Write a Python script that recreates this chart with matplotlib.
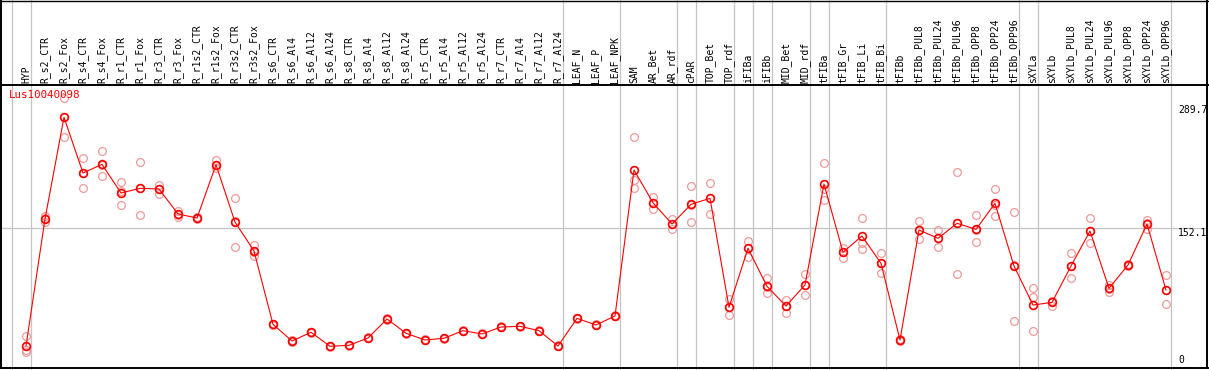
import matplotlib
matplotlib.use("Agg")
import matplotlib.pyplot as plt
import numpy as np
from matplotlib.lines import Line2D
from matplotlib.transforms import blended_transform_factory

title = "Lus10040098"

categories = ["HYP", "R_s2_CTR", "R_s2_Fox", "R_s4_CTR", "R_s4_Fox", "R_r1_CTR", "R_r1_Fox",
              "R_r3_CTR", "R_r3_Fox", "R_r1s2_CTR", "R_r1s2_Fox", "R_r3s2_CTR", "R_r3s2_Fox",
              "R_s6_CTR", "R_s6_Al4", "R_s6_Al12", "R_s6_Al24", "R_s8_CTR", "R_s8_Al4",
              "R_s8_Al12", "R_s8_Al24", "R_r5_CTR", "R_r5_Al4", "R_r5_Al12", "R_r5_Al24",
              "R_r7_CTR", "R_r7_Al4", "R_r7_Al12", "R_r7_Al24", "LEAF_N", "LEAF_P", "LEAF_NPK",
              "SAM", "AR_Bet", "AR_rdf", "cPAR", "TOP_Bet", "TOP_rdf", "iFIBa", "iFIBb",
              "MID_Bet", "MID_rdf", "tFIBa", "tFIB_Gr", "tFIB_Li", "tFIB_Bi", "tFIBb",
              "tFIBb_PUL8", "tFIBb_PUL24", "tFIBb_PUL96", "tFIBb_OPP8", "tFIBb_OPP24",
              "tFIBb_OPP96", "sXYLa", "sXYLb", "sXYLb_PUL8", "sXYLb_PUL24", "sXYLb_PUL96",
              "sXYLb_OPP8", "sXYLb_OPP24", "sXYLb_OPP96"]

means = [21.1, 162.4, 275.5, 213.6, 223.2, 191.3, 196.5, 195.8, 168.0, 163.5, 222.8, 159.0,
         126.8, 45.2, 26.7, 36.4, 20.8, 21.9, 30.0, 51.2, 35.3, 27.8, 29.7, 38.2, 34.5, 42.3,
         43.0, 38.2, 21.1, 51.9, 44.5, 54.5, 216.9, 180.5, 156.8, 178.7, 185.4, 64.2, 129.8,
         87.5, 65.6, 89.0, 201.3, 125.4, 143.5, 113.1, 27.8, 150.2, 140.9, 157.6, 150.9,
         179.8, 110.1, 66.7, 69.7, 110.1, 149.0, 85.3, 111.2, 156.8, 83.4]

replicates = [
    [32.3, 16.7, 14.8], [166.0, 163.0, 159.0], [296.7, 253.6, 276.0], [229.9, 196.5, 214.0],
    [238.0, 209.9, 222.0], [203.2, 177.6, 193.0], [225.8, 166.5, 197.0], [200.6, 190.2, 196.0],
    [171.7, 165.0, 167.0], [164.5, 163.0, 162.0], [228.0, 218.8, 222.0], [185.8, 130.9, 160.0],
    [133.1, 121.6, 126.0], [46.0, 44.5, 45.0], [27.5, 26.0, 26.5], [37.0, 36.0, 36.3],
    [21.5, 20.3, 20.8], [22.5, 21.4, 21.9], [30.6, 29.5, 30.0], [52.0, 50.6, 51.0],
    [35.9, 34.8, 35.3], [28.4, 27.3, 27.8], [30.3, 29.2, 29.7], [38.8, 37.7, 38.2],
    [35.1, 34.0, 34.5], [42.9, 41.8, 42.3], [43.6, 42.5, 43.0], [38.8, 37.7, 38.2],
    [21.7, 20.6, 21.1], [52.5, 51.4, 51.9], [45.1, 44.0, 44.5], [55.1, 54.0, 54.5],
    [253.6, 206.0, 196.5], [187.2, 173.9, 180.0], [162.8, 150.9, 157.0], [198.8, 158.7, 178.0],
    [202.1, 167.6, 186.0], [73.1, 55.3, 64.0], [137.9, 120.5, 130.0], [96.4, 79.7, 87.0],
    [72.3, 57.5, 66.0], [101.2, 77.5, 89.0], [224.4, 195.4, 183.5], [129.8, 119.4, 126.0],
    [163.2, 136.0, 128.7], [124.2, 102.0, 113.0], [28.5, 27.0, 27.8], [160.2, 139.8, 150.0],
    [150.2, 130.9, 141.0], [214.3, 100.9, 157.6], [166.5, 136.5, 150.0], [195.4, 165.7, 178.0],
    [169.9, 48.9, 111.0], [85.3, 75.3, 37.8], [71.0, 66.0, 71.5], [124.2, 96.4, 110.0],
    [163.2, 135.4, 149.0], [89.0, 81.6, 85.0], [112.0, 110.5, 111.0], [161.3, 150.9, 158.0],
    [100.1, 67.5, 83.0]]

# group separators come after these category indices
group_ends = [-1, 0, 28, 31, 34, 35, 37, 38, 39, 41, 42, 45, 52, 53, 60]

y_ticks = [289.7, 152.1, 0]

W, H = 1209, 370
fig = plt.figure(figsize=(W / 100, H / 100), dpi=100)
fig.patch.set_facecolor("white")

ax = fig.add_axes([1 / W, 2 / H, 1206 / W, 283 / H])
ax.set_axis_off()
ax.set_xlim(-1.3158, 62.158)
ax.set_ylim(-3.337, 311.46)

gray = "#c4c4c4"
trans = blended_transform_factory(ax.transData, fig.transFigure)
for g in group_ends:
    xv = g + 0.25
    ax.plot([xv, xv], [0, 1], color=gray, lw=0.9, transform=trans, clip_on=False, zorder=1)

ax.axhline(y_ticks[1], color=gray, lw=0.9, zorder=1)

x = np.arange(len(categories))
rep_color = "#f09a9a"
for i, reps in enumerate(replicates):
    ax.plot([i] * len(reps), reps, linestyle="none", marker="o", markersize=5.6,
            markerfacecolor="none", markeredgecolor=rep_color, markeredgewidth=0.9, zorder=2)

ax.plot(x, means, color="red", lw=0.8, zorder=3)
ax.plot(x, means, linestyle="none", marker="o", markersize=5.6, markerfacecolor="none",
        markeredgecolor="red", markeredgewidth=1.2, zorder=4)

# category labels
label_y = (H - 83) / H
for i, name in enumerate(categories):
    ax.text(i, label_y, name, transform=trans, rotation=90, ha="center", va="bottom",
            fontsize=7, family="DejaVu Sans Mono", color="black", clip_on=False)

# y labels on the right
xl = (1178 - 26) / 19
ax.text(xl, y_ticks[0], "289.7", ha="left", va="top", fontsize=7, family="DejaVu Sans Mono")
ax.text(xl, y_ticks[1], "152.1", ha="left", va="top", fontsize=7, family="DejaVu Sans Mono")
ax.text(xl, y_ticks[2], "0", ha="left", va="bottom", fontsize=7, family="DejaVu Sans Mono")

fig.text(9 / W, 1 - 90 / H, title, ha="left", va="top", color="red", fontsize=7.8,
         family="DejaVu Sans Mono")

# frame lines
def fline(x0, y0, x1, y1, lw=1.4):
    fig.add_artist(Line2D([x0 / W, x1 / W], [1 - y0 / H, 1 - y1 / H], color="black",
                          lw=lw, transform=fig.transFigure))

fline(1, 0, 1, 368)
fline(0, 1, 1208, 1, lw=1.0)
fline(1207, 0, 1207, 368)
fline(0, 368, 1208, 368)
fline(0, 85, 1208, 85)

fig.savefig("out.png", dpi=100, facecolor="white")
